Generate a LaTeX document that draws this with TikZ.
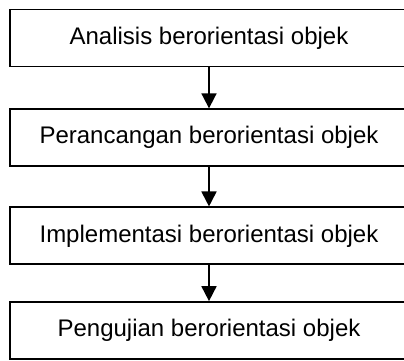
\documentclass[tikz,border=0pt]{standalone}
\usepackage{fontspec}
\setmainfont{Liberation Sans}
\usetikzlibrary{arrows.meta}
\begin{document}
\begin{tikzpicture}[x=1pt,y=1pt,
  stepbox/.style={draw=black, line width=1.7pt, minimum width=398pt, minimum height=57pt,
    inner sep=0pt, font=\fontsize{24}{28}\selectfont},
  flow/.style={line width=1.8pt, -{Triangle[length=15pt,width=15pt]}}]
\clip (0,0) rectangle (404,361);
\useasboundingbox (0,0) rectangle (404,361);
\node[stepbox] (a) at (209,323) {Analisis berorientasi objek};
\node[stepbox] (b) at (209,223.3) {Perancangan berorientasi objek};
\node[stepbox] (c) at (209,125.2) {Implementasi berorientasi objek};
\node[stepbox] (d) at (209,30.5) {Pengujian berorientasi objek};
\draw[flow] (a.south) -- (b.north);
\draw[flow] (b.south) -- (c.north);
\draw[flow] (c.south) -- (d.north);
\end{tikzpicture}
\end{document}
